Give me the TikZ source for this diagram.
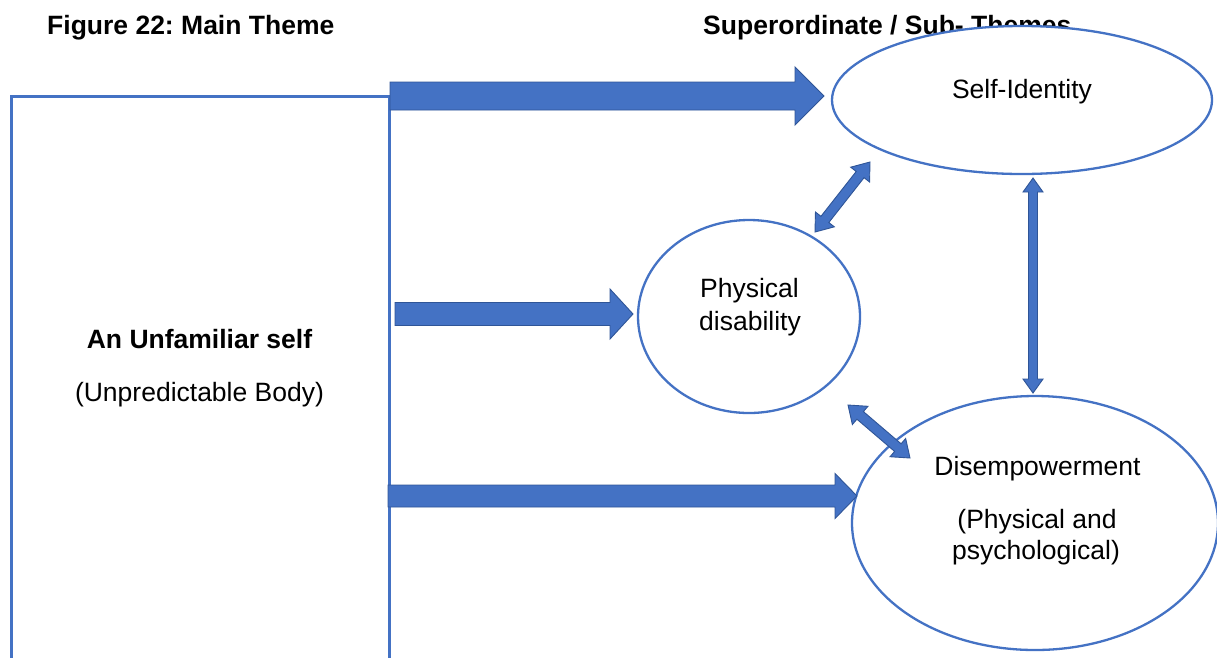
\documentclass[tikz,border=0pt]{standalone}
\usepackage{fontspec}
\setmainfont{Liberation Sans}
\usetikzlibrary{shapes.geometric,calc}
\frenchspacing

\definecolor{themeblue}{HTML}{4472C4}
\definecolor{themeedge}{HTML}{2F5597}

% block arrow with one head: #1 tail, #2 tip, #3 shaft half width, #4 head half width, #5 head length
\newcommand\blockarrow[5]{%
  \path ($(#2)!#5!(#1)$) coordinate (hb);
  \filldraw[blockfill]
    ($(#1)!#3!90:(#2)$) -- ($(hb)!#3!-90:(#1)$) -- ($(hb)!#4!-90:(#1)$) -- (#2)
    -- ($(hb)!#4!90:(#1)$) -- ($(hb)!#3!90:(#1)$) -- ($(#1)!#3!-90:(#2)$) -- cycle;}

% block arrow with heads at both ends
\newcommand\twinarrow[5]{%
  \path ($(#1)!#5!(#2)$) coordinate (ha) ($(#2)!#5!(#1)$) coordinate (hb);
  \filldraw[blockfill]
    (#1) -- ($(ha)!#4!90:(#2)$) -- ($(ha)!#3!90:(#2)$) -- ($(hb)!#3!-90:(#1)$)
    -- ($(hb)!#4!-90:(#1)$) -- (#2) -- ($(hb)!#4!90:(#1)$) -- ($(hb)!#3!90:(#1)$)
    -- ($(ha)!#3!-90:(#2)$) -- ($(ha)!#4!-90:(#2)$) -- cycle;}

\tikzset{
  blockfill/.style={fill=themeblue, draw=themeedge, line width=0.9pt, line join=miter},
  theme/.style={ellipse, draw=themeblue, line width=2.3pt, fill=white, inner sep=0pt},
  label/.style={font=\fontsize{26.5}{33}\selectfont, anchor=base, inner sep=0pt, text=black},
  boldlabel/.style={label, font=\fontsize{26.5}{33}\selectfont\bfseries},
}

\begin{document}
\begin{tikzpicture}[x=1pt, y=-1pt]
\useasboundingbox (0,0) rectangle (1217,657);

% headings
\node[boldlabel, anchor=base west] (mainhead) at (47,34) {Figure 22: Main Theme};
\node[boldlabel, anchor=base west] (subhead) at (703,34) {Superordinate / Sub- Themes};

% main theme box (runs past the lower edge)
\node[draw=themeblue, line width=3pt, anchor=north west, minimum width=378pt,
      minimum height=640pt, inner sep=0pt] (main) at (10,95) {};
\node[boldlabel] (mainname) at (199.5,348) {An Unfamiliar self};
\node[label] (mainsub) at (199.5,401) {(Unpredictable Body)};

% sub-themes
\node[theme, minimum width=380pt, minimum height=148pt] (self) at (1022,100) {};
\node[label] (selftxt) at (1022,98) {Self-Identity};

\node[theme, minimum width=222pt, minimum height=193pt] (phys) at (749,316.5) {};
\node[label] (phystxt1) at (749.5,297) {Physical};
\node[label] (phystxt2) at (750,330) {disability};

\node[theme, minimum width=366pt, minimum height=254pt] (disemp) at (1035,523) {};
\node[label] (distxt1) at (1037.5,475) {Disempowerment};
\node[label] (distxt2) at (1037,528) {(Physical and};
\node[label] (distxt3) at (1036,559) {psychological)};

% end points of the block arrows
\coordinate (t1) at (390,96);   \coordinate (h1) at (824,96);
\coordinate (t2) at (395,314);  \coordinate (h2) at (633,314);
\coordinate (t3) at (388,496);  \coordinate (h3) at (857,496);

\coordinate (pa) at (815,232);  \coordinate (sa) at (870,162);
\coordinate (pb) at (848,405);  \coordinate (db) at (910,458);
\coordinate (sc) at (1033,178); \coordinate (dc) at (1033,393);

% main theme to sub-themes
\blockarrow{t1}{h1}{14pt}{29pt}{29pt}
\blockarrow{t2}{h2}{11.5pt}{25pt}{23pt}
\blockarrow{t3}{h3}{11pt}{22.5pt}{22pt}

% links between sub-themes
\twinarrow{pa}{sa}{5pt}{12pt}{16pt}
\twinarrow{pb}{db}{5pt}{12pt}{16pt}
\twinarrow{sc}{dc}{4.5pt}{10pt}{14pt}
\end{tikzpicture}
\end{document}
